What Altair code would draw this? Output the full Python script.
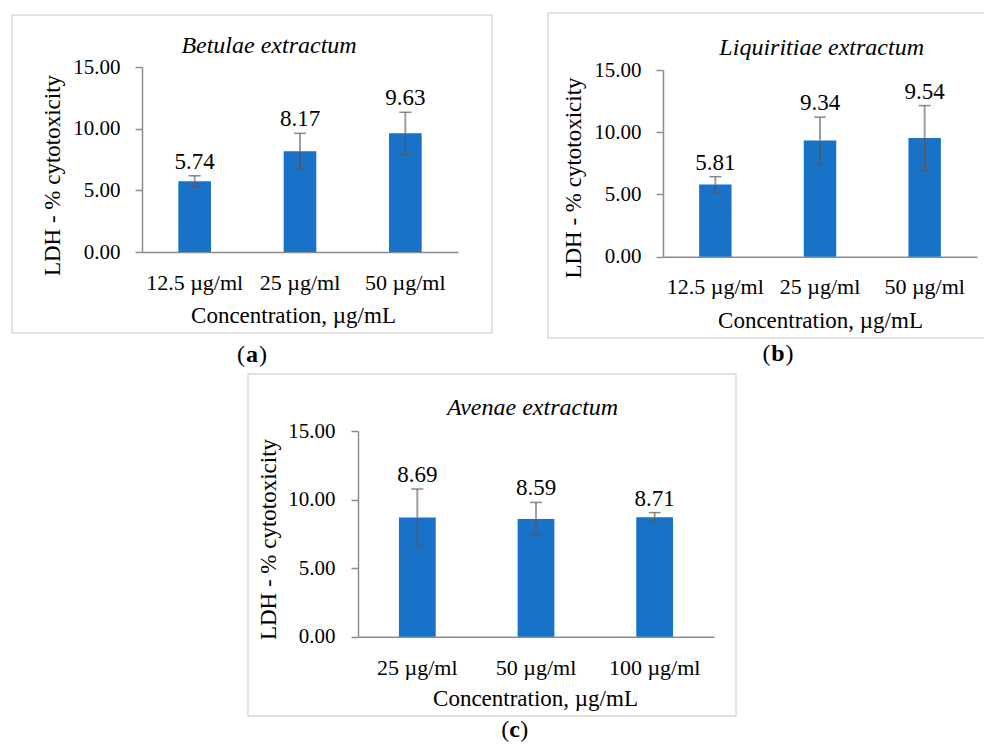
import altair as alt
import pandas as pd

FONT = "Liberation Serif"
BAR = "#1872C8"
AXIS_GRAY = "#8C8C8C"
ERR = "#595959"
ERR_LIGHT = "#9E9E9E"
BORDER = "#D9D9D9"
W, H = 976, 735

# ---- data ----
a_title = "Betulae extractum"
a_conc = ["12.5 µg/ml", "25 µg/ml", "50 µg/ml"]
a_mean = [5.74, 8.17, 9.63]
a_err = [0.44, 1.45, 1.70]

b_title = "Liquiritiae extractum"
b_conc = ["12.5 µg/ml", "25 µg/ml", "50 µg/ml"]
b_mean = [5.81, 9.34, 9.54]
b_err = [0.62, 1.87, 2.60]

c_title = "Avenae extractum"
c_conc = ["25 µg/ml", "50 µg/ml", "100 µg/ml"]
c_mean = [8.69, 8.59, 8.71]
c_err = [2.08, 1.20, 0.34]

y_ticks = [0, 5, 10, 15]
y_label = "LDH - % cytotoxicity"
x_label = "Concentration, µg/mL"

# ---- layout (pixels inside the canvas) ----
geo = {
    "a": dict(xr=[134, 450], yr=[244, 59], box=(4, 484, 7, 325), title=(261, 45),
              xt=(285, 70), yt=(-83, 167), lab=(37, 15),
              letter=(244, 353.5, 7)),
    "b": dict(xr=[655, 969], yr=[248.7, 62], box=(540, 1000, 5, 330), title=(813.7, 47),
              xt=(812, 71), yt=(-83, 169.5), lab=(36.5, 15),
              letter=(770, 353, 7.5)),
    "c": dict(xr=[350, 706], yr=[628.7, 423], box=(240, 728, 366, 708), title=(524.5, 407),
              xt=(527, 68.3), yt=(-83, 531), lab=(37.3, 16),
              letter=(506.7, 728.5, 5.5)),
}

one = pd.DataFrame({"k": [0]})


def panel(key, conc, mean, err, title):
    g = geo[key]
    df = pd.DataFrame({"conc": conc, "mean": mean, "err": err})
    xs = alt.Scale(domain=conc, range=g["xr"], paddingInner=0.69, paddingOuter=0.345)
    xa = alt.Axis(orient="bottom", offset=g["yr"][0] - H, ticks=False, tickSize=0,
                  domainColor=AXIS_GRAY, domainWidth=1.5, grid=False,
                  labelFont=FONT, labelFontSize=22, labelColor="black", labelAngle=0,
                  labelBaseline="alphabetic", labelPadding=g["lab"][0],
                  title=x_label, titleFont=FONT, titleFontSize=23, titleFontWeight="normal",
                  titleColor="black", titleX=g["xt"][0], titleY=g["xt"][1],
                  titleBaseline="alphabetic", titleAlign="center")
    ys = alt.Scale(domain=[0, 15], range=g["yr"], nice=False, zero=True)
    ya = alt.Axis(orient="left", offset=-g["xr"][0], values=y_ticks, format=".2f",
                  tickSize=7, tickColor=AXIS_GRAY, tickWidth=1.5,
                  domainColor=AXIS_GRAY, domainWidth=1.5, grid=False,
                  labelFont=FONT, labelFontSize=21, labelColor="black",
                  labelPadding=g["lab"][1],
                  title=y_label, titleFont=FONT, titleFontSize=23, titleFontWeight="normal",
                  titleColor="black", titleAngle=270, titleX=g["yt"][0], titleY=g["yt"][1],
                  titleBaseline="alphabetic", titleAlign="center")
    base = alt.Chart(df).transform_calculate(
        lo="datum.mean - datum.err", hi="datum.mean + datum.err"
    ).encode(x=alt.X("conc:N", sort=conc, scale=xs, axis=xa))

    bars = base.mark_bar(color=BAR).encode(y=alt.Y("mean:Q", scale=ys, axis=ya))
    rule_in = base.mark_rule(color=ERR, strokeWidth=1.5).encode(
        y=alt.Y("lo:Q", scale=ys, axis=ya), y2="mean:Q")
    rule_out = base.mark_rule(color=ERR_LIGHT, strokeWidth=2).encode(
        y=alt.Y("mean:Q", scale=ys, axis=ya), y2="hi:Q")
    cap_lo = base.mark_tick(color=ERR, size=12, thickness=1.5, orient="horizontal").encode(
        y=alt.Y("lo:Q", scale=ys, axis=ya))
    cap_hi = base.mark_tick(color=ERR, size=12, thickness=1.5, orient="horizontal").encode(
        y=alt.Y("hi:Q", scale=ys, axis=ya))
    labels = base.mark_text(font=FONT, fontSize=23, baseline="alphabetic", dy=-7,
                            color="black").encode(
        y=alt.Y("hi:Q", scale=ys, axis=ya), text=alt.Text("mean:Q", format=".2f"))
    return alt.layer(bars, rule_in, rule_out, cap_lo, cap_hi, labels)


def decor(key, title, letter):
    g = geo[key]
    x1, x2, y1, y2 = g["box"]
    box = alt.Chart(one).mark_rect(fillOpacity=0, stroke=BORDER, strokeWidth=1.5).encode(
        x=alt.value(x1), x2=alt.value(x2), y=alt.value(y1), y2=alt.value(y2))
    ttl = alt.Chart(one).mark_text(text=title, font=FONT, fontSize=24, fontStyle="italic",
                                    align="center", baseline="alphabetic", color="black").encode(
        x=alt.value(g["title"][0]), y=alt.value(g["title"][1]))
    cx, by, hw = g["letter"]
    lp = alt.Chart(one).mark_text(text="(", font=FONT, fontSize=24, align="right",
                                   baseline="alphabetic", color="black").encode(
        x=alt.value(cx - hw), y=alt.value(by))
    lt = alt.Chart(one).mark_text(text=letter, font=FONT, fontSize=24, fontWeight="bold",
                                   align="center", baseline="alphabetic", color="black").encode(
        x=alt.value(cx), y=alt.value(by))
    rp = alt.Chart(one).mark_text(text=")", font=FONT, fontSize=24, align="left",
                                   baseline="alphabetic", color="black").encode(
        x=alt.value(cx + hw), y=alt.value(by))
    return [box, ttl, lp, lt, rp]


layers = (decor("a", a_title, "a") + decor("b", b_title, "b") + decor("c", c_title, "c")
          + [panel("a", a_conc, a_mean, a_err, a_title),
             panel("b", b_conc, b_mean, b_err, b_title),
             panel("c", c_conc, c_mean, c_err, c_title)])

chart = alt.layer(*layers).resolve_scale(x="independent", y="independent").properties(
    width=W, height=H, padding=0, autosize=alt.AutoSizeParams(type="none"),
    background="white"
).configure_view(stroke=None)

chart.save("out.html", embed_options={"renderer": "svg", "actions": False})
